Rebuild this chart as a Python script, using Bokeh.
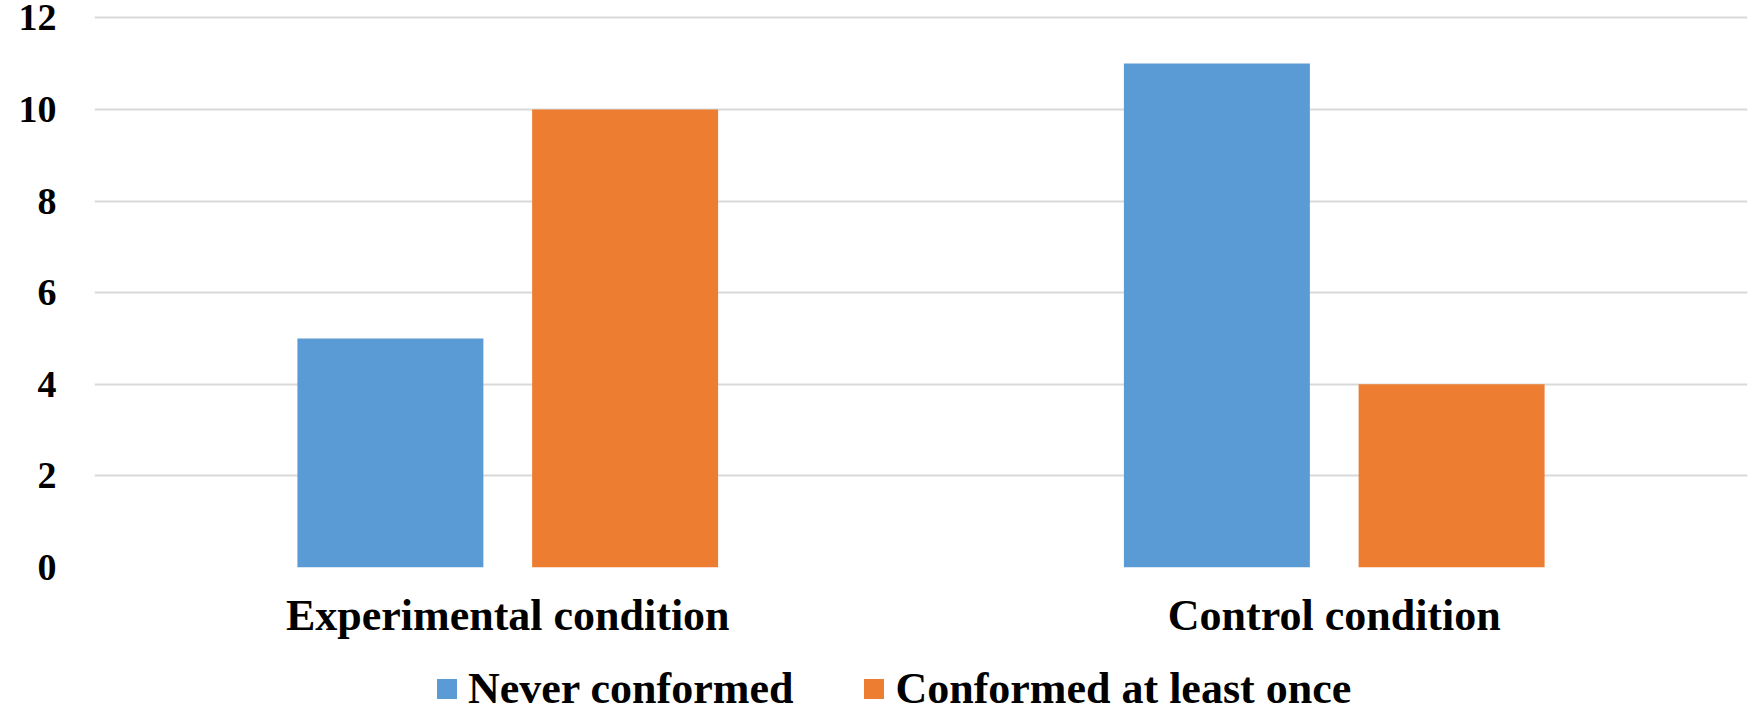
from bokeh.plotting import figure
from bokeh.layouts import column
from bokeh.models import (ColumnDataSource, FactorRange, Range1d, FixedTicker,
                          Legend, LegendItem)
from bokeh.transform import dodge
from bokeh.embed import file_html
from bokeh.resources import INLINE

categories = ["Experimental condition", "Control condition"]
never_conformed = [5, 11]
conformed_once = [10, 4]
series_names = ["Never conformed", "Conformed at least once"]
y_ticks = [0, 2, 4, 6, 8, 10, 12]

BLUE = "#5B9BD5"
ORANGE = "#ED7D31"
FONT = "Liberation Serif"

src = ColumnDataSource(dict(cat=categories, never=never_conformed, once=conformed_once))

p = figure(frame_width=1653, frame_height=552, x_range=FactorRange(*categories),
           y_range=Range1d(0, 12.05), output_backend="svg", toolbar_location=None,
           min_border_left=94, min_border_right=5, min_border_top=15,
           min_border_bottom=80)
p.outline_line_color = None
p.background_fill_color = "white"
p.border_fill_color = "white"

r1 = p.vbar(x=dodge("cat", -0.142, range=p.x_range), top="never", width=0.225,
            source=src, fill_color=BLUE, line_color=None)
r2 = p.vbar(x=dodge("cat", 0.142, range=p.x_range), top="once", width=0.225,
            source=src, fill_color=ORANGE, line_color=None)

p.xgrid.grid_line_color = None
p.ygrid.grid_line_color = "#D9D9D9"
p.ygrid.grid_line_width = 2
p.yaxis.ticker = FixedTicker(ticks=y_ticks)

for ax in (p.xaxis[0], p.yaxis[0]):
    ax.axis_line_color = None
    ax.major_tick_line_color = None
    ax.minor_tick_line_color = None
    ax.major_tick_out = 0
    ax.major_tick_in = 0
    ax.major_label_text_font = FONT
    ax.major_label_text_font_style = "bold"
    ax.major_label_text_color = "black"

p.yaxis.major_label_text_font_size = "38px"
p.yaxis.major_label_text_line_height = 0.8
p.yaxis.major_label_standoff = 38
p.xaxis.major_label_text_font_size = "44px"
p.xaxis.major_label_standoff = 23

# legend strip below the chart
q = figure(frame_width=1653, frame_height=70, x_range=FactorRange(*categories),
           y_range=Range1d(0, 1), output_backend="svg", toolbar_location=None,
           x_axis_type=None, y_axis_type=None,
           min_border_left=94, min_border_right=5, min_border_top=0,
           min_border_bottom=0)
q.outline_line_color = None
q.xgrid.grid_line_color = None
q.ygrid.grid_line_color = None
q.background_fill_color = "white"
q.border_fill_color = "white"
l1 = q.vbar(x=dodge("cat", -0.142, range=q.x_range), top="never", width=0.225,
            source=src, fill_color=BLUE, line_color=None, visible=False)
l2 = q.vbar(x=dodge("cat", 0.142, range=q.x_range), top="once", width=0.225,
            source=src, fill_color=ORANGE, line_color=None, visible=False)

legend = Legend(items=[LegendItem(label=series_names[0], renderers=[l1]),
                       LegendItem(label=series_names[1], renderers=[l2])],
                orientation="horizontal", location=(340, 3))
legend.border_line_color = None
legend.background_fill_alpha = 0
legend.inactive_fill_alpha = 0
legend.padding = 0
legend.margin = 0
legend.spacing = 68
legend.glyph_width = 25
legend.glyph_height = 25
legend.label_standoff = 9
legend.label_text_font = FONT
legend.label_text_font_style = "bold"
legend.label_text_font_size = "44px"
legend.label_text_color = "black"
q.add_layout(legend, "center")

layout = column(p, q, spacing=0)
open("out.html", "w").write(file_html(layout, INLINE))
